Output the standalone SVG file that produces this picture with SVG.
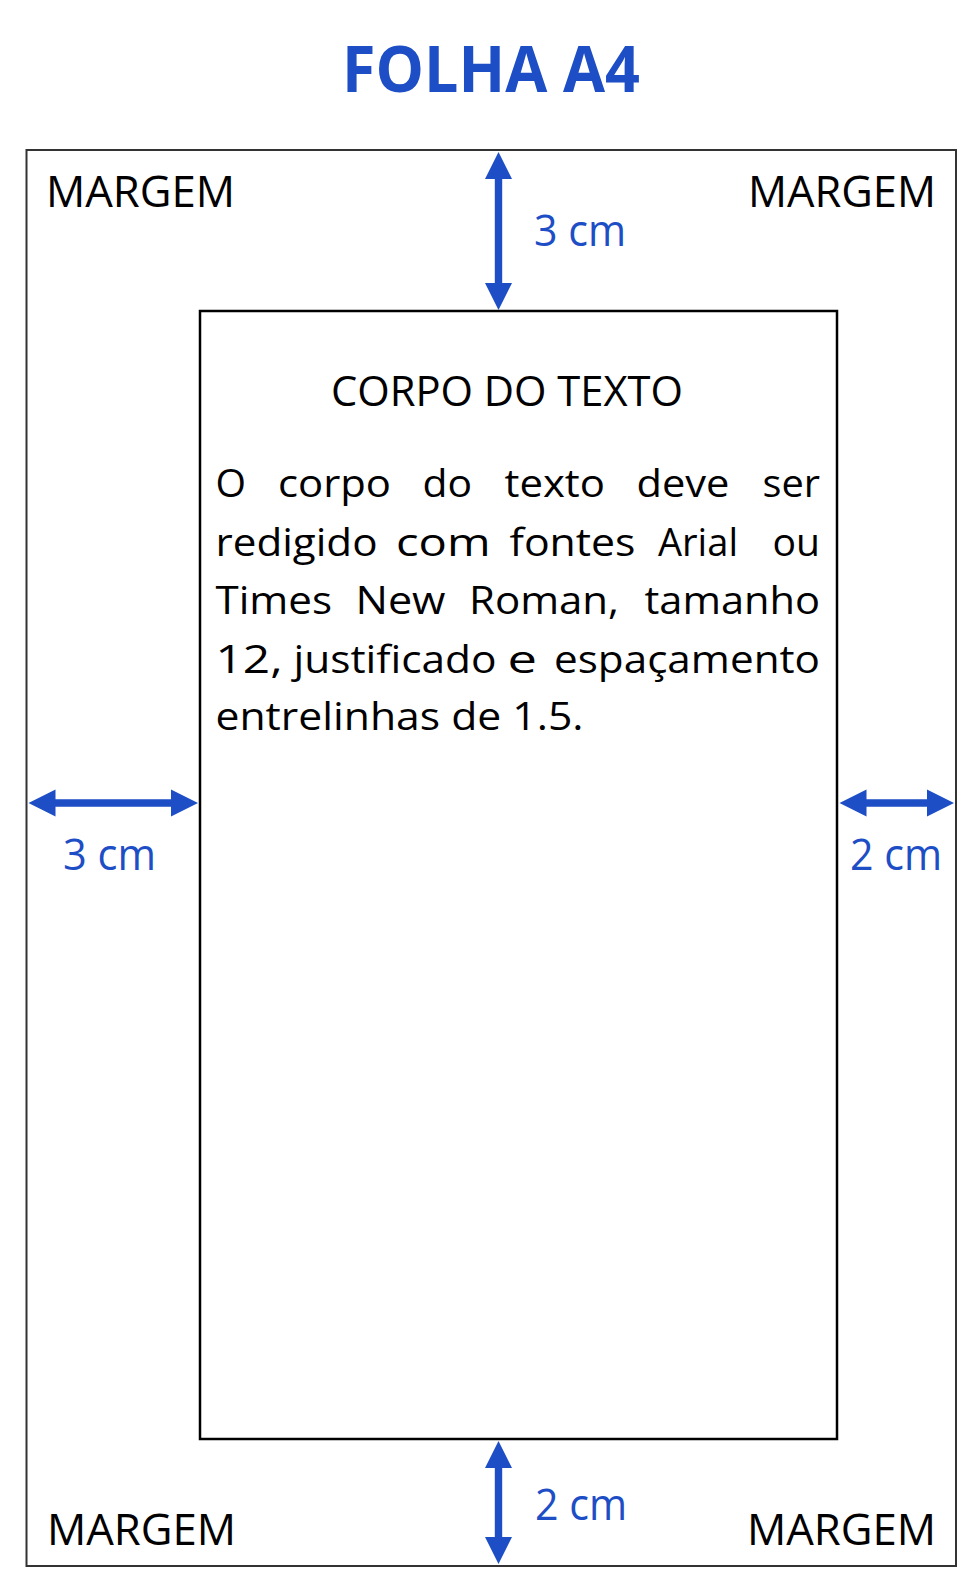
<svg xmlns="http://www.w3.org/2000/svg" width="980" height="1591" viewBox="0 0 980 1591">
<style>
text{font-family:"Open Sans","Noto Sans","DejaVu Sans",sans-serif}
.blue{fill:#1d4ec5}
.m{font-size:44px;fill:#000}
.cm{font-size:44px}
.p{font-size:38.5px;fill:#000}
.arrow{fill:#1d4ec5}
</style>
<rect width="980" height="1591" fill="#fff"/>
<g id="title"><text class="blue" x="342" y="92" font-size="65" font-weight="700" textLength="298" lengthAdjust="spacingAndGlyphs">FOLHA A4</text></g>
<g id="page">
<rect x="26.5" y="150" width="929.5" height="1416" fill="none" stroke="#333" stroke-width="2"/>
</g>
<g id="margin-labels">
<text class="m" x="46" y="207" textLength="189" lengthAdjust="spacingAndGlyphs">MARGEM</text>
<text class="m" x="748" y="207" textLength="188" lengthAdjust="spacingAndGlyphs">MARGEM</text>
<text class="m" x="47" y="1545" textLength="189" lengthAdjust="spacingAndGlyphs">MARGEM</text>
<text class="m" x="747" y="1545" textLength="189" lengthAdjust="spacingAndGlyphs">MARGEM</text>
</g>
<g id="body">
<rect x="200" y="311" width="637" height="1128" fill="none" stroke="#000" stroke-width="2.5"/>
<text x="331" y="406" font-size="41.5" fill="#000" textLength="352" lengthAdjust="spacingAndGlyphs">CORPO DO TEXTO</text>
<g class="p">
<text x="215.5" y="497" textLength="30.5" lengthAdjust="spacingAndGlyphs">O</text>
<text x="278" y="497" textLength="113" lengthAdjust="spacingAndGlyphs">corpo</text>
<text x="422.5" y="497" textLength="49.5" lengthAdjust="spacingAndGlyphs">do</text>
<text x="504.5" y="497" textLength="100.5" lengthAdjust="spacingAndGlyphs">texto</text>
<text x="636.5" y="497" textLength="93" lengthAdjust="spacingAndGlyphs">deve</text>
<text x="762.5" y="497" textLength="57.5" lengthAdjust="spacingAndGlyphs">ser</text>
<text x="215.5" y="555.5" textLength="162" lengthAdjust="spacingAndGlyphs">redigido</text>
<text x="396" y="555.5" textLength="94.5" lengthAdjust="spacingAndGlyphs">com</text>
<text x="509.5" y="555.5" textLength="126" lengthAdjust="spacingAndGlyphs">fontes</text>
<text x="658" y="555.5" textLength="80" lengthAdjust="spacingAndGlyphs">Arial</text>
<text x="772.5" y="555.5" textLength="47.5" lengthAdjust="spacingAndGlyphs">ou</text>
<text x="215.5" y="614" textLength="116.5" lengthAdjust="spacingAndGlyphs">Times</text>
<text x="355.5" y="614" textLength="90" lengthAdjust="spacingAndGlyphs">New</text>
<text x="469" y="614" textLength="150" lengthAdjust="spacingAndGlyphs">Roman,</text>
<text x="644.5" y="614" textLength="175.5" lengthAdjust="spacingAndGlyphs">tamanho</text>
<text x="215.5" y="672.5" textLength="67" lengthAdjust="spacingAndGlyphs">12,</text>
<text x="293.5" y="672.5" textLength="203" lengthAdjust="spacingAndGlyphs">justificado</text>
<text x="507.5" y="672.5" textLength="29.5" lengthAdjust="spacingAndGlyphs">e</text>
<text x="554" y="672.5" textLength="266" lengthAdjust="spacingAndGlyphs">espaçamento</text>
<text x="215.5" y="730" textLength="368" lengthAdjust="spacingAndGlyphs">entrelinhas de 1.5.</text>
</g>
</g>
<g id="connectors">
<polygon class="arrow" points="498.5,152 512,179 502.2,179 502.2,283 512,283 498.5,310 485,283 494.8,283 494.8,179 485,179"/>
<polygon class="arrow" points="498.5,1441 512,1468 502.2,1468 502.2,1537 512,1537 498.5,1564 485,1537 494.8,1537 494.8,1468 485,1468"/>
<polygon class="arrow" points="28.5,803 55.5,789.5 55.5,799.3 171,799.3 171,789.5 198,803 171,816.5 171,806.7 55.5,806.7 55.5,816.5"/>
<polygon class="arrow" points="839.5,803 866.5,789.5 866.5,799.3 927,799.3 927,789.5 954,803 927,816.5 927,806.7 866.5,806.7 866.5,816.5"/>
</g>
<g id="measure-labels">
<text class="cm blue" x="534" y="245.5" textLength="92" lengthAdjust="spacingAndGlyphs">3 cm</text>
<text class="cm blue" x="63" y="870" textLength="93" lengthAdjust="spacingAndGlyphs">3 cm</text>
<text class="cm blue" x="850" y="870" textLength="92" lengthAdjust="spacingAndGlyphs">2 cm</text>
<text class="cm blue" x="535" y="1519.5" textLength="92" lengthAdjust="spacingAndGlyphs">2 cm</text>
</g>
</svg>
